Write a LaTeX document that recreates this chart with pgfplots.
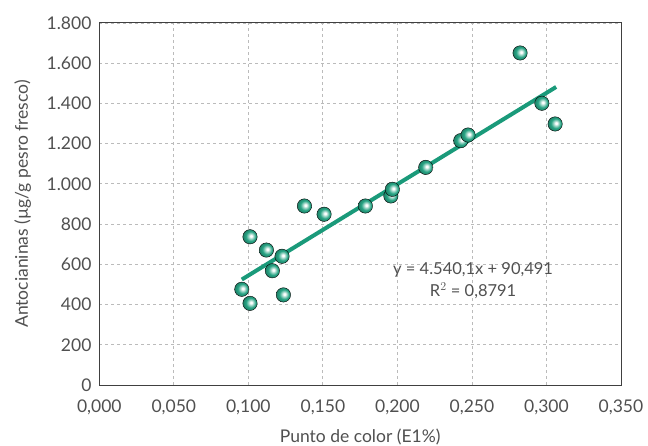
\documentclass[border=0pt]{standalone}
\usepackage{pgfplots}
\pgfplotsset{compat=1.18}
\usepackage{fontspec}
\setmainfont{Lato}
\definecolor{txt}{HTML}{505050}
\definecolor{teal1}{HTML}{1A9A7A}
\definecolor{ballc}{HTML}{27A383}
\definecolor{gridc}{HTML}{BBBBBB}
\makeatletter
\pgfdeclareradialshading[tikz@ball]{ball}{\pgfqpoint{4bp}{3bp}}{%
 color(0bp)=(tikz@ball!0!white);
 color(3bp)=(tikz@ball!0!white);
 color(9bp)=(tikz@ball!45!white);
 color(17bp)=(tikz@ball);
 color(27bp)=(tikz@ball!78!black);
 color(50bp)=(tikz@ball!78!black)}
\makeatother
\begin{document}
\fontsize{17}{20}\selectfont
\begin{tikzpicture}
\path[use as bounding box] (-99.3pt,-60pt) rectangle (548.7pt,385pt);
\begin{axis}[
  scale only axis, width=521.7pt, height=362pt,
  at={(0,0)}, anchor=south west,
  xmin=0, xmax=0.35, ymin=0, ymax=1800,
  xtick={0,0.05,...,0.35}, ytick={0,200,...,1800},
  scaled x ticks=false, scaled y ticks=false,
  /pgf/number format/assume math mode=true,
  xticklabel style={/pgf/number format/fixed, /pgf/number format/fixed zerofill, /pgf/number format/precision=3, /pgf/number format/use comma, yshift=-9pt},
  yticklabel style={/pgf/number format/1000 sep={.}, xshift=-2pt},
  ticklabel style={font=\fontsize{17.5}{20}\selectfont, text=txt},
  tick style={draw=none},
  grid=major,
  major grid style={gridc, dashed, dash pattern=on 3pt off 3pt, line width=0.8pt},
  axis line style={black!75, line width=1pt},
  xlabel={Punto de color (E1\%)},
  ylabel={Antocianinas (µg/g pesro fresco)},
  label style={font=\fontsize{17.5}{20}\selectfont, text=txt},
  xlabel style={at={(axis description cs:0.5,-0.1575)}, anchor=base},
  ylabel style={at={(axis description cs:-0.1367,0.5)}, anchor=base},
  clip=false,
]
\addplot[teal1, line width=4pt, forget plot] coordinates {(0.0956,524.5) (0.3065,1482)};
\addplot[only marks, mark=ball, mark size=7.2pt, mark options={ball color=ballc}] coordinates {
(0.0956,476) (0.1011,406) (0.1011,737) (0.1121,671) (0.1161,568) (0.1226,640)
(0.1235,448) (0.1376,890) (0.1508,849) (0.1785,890) (0.1956,940) (0.1966,973)
(0.2190,1082) (0.2425,1215) (0.2474,1243) (0.2823,1651) (0.2969,1401) (0.3058,1298)
};
\node[align=center, text=txt, font=\fontsize{16.5}{22}\selectfont] at (axis cs:0.2508,519) {y = 4.540,1x + 90,491\\R$^2$ = 0,8791};
\end{axis}
\end{tikzpicture}
\end{document}
